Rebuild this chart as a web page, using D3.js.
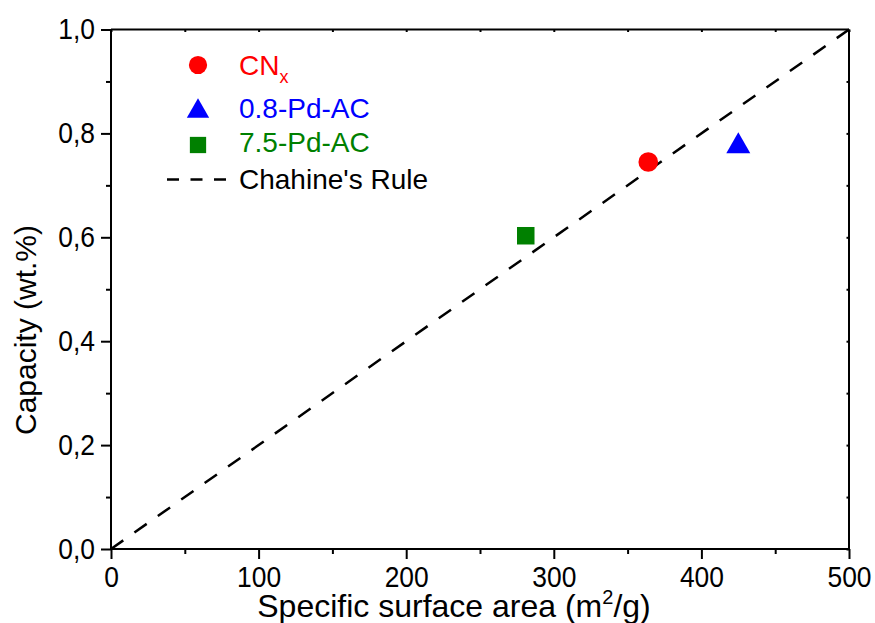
<!DOCTYPE html>
<html>
<head>
<meta charset="utf-8">
<script src="https://cdn.jsdelivr.net/npm/d3@7"></script>
<style>
  html, body { margin: 0; padding: 0; background: #fff; }
  svg { display: block; font-family: Arial, "Liberation Sans", sans-serif; }
</style>
</head>
<body>
<svg id="chart" width="875" height="623"></svg>
<script>
// ---- data ----
const seriesNames = ["CNx", "0.8-Pd-AC", "7.5-Pd-AC"];
const seriesColors = ["#ff0000", "#0000ff", "#008000"];
const seriesSymbols = ["circle", "triangle", "square"];
const surfaceArea = [364, 425, 281];      // m2/g
const capacity = [0.745, 0.782, 0.603];   // wt.%
const ruleX = [0, 500];
const ruleY = [0, 1.0];
const xTicks = [0, 100, 200, 300, 400, 500];
const xMinorTicks = [50, 150, 250, 350, 450];
const yTicks = [0, 0.2, 0.4, 0.6, 0.8, 1.0];
const yMinorTicks = [0.1, 0.3, 0.5, 0.7, 0.9];
const yTickLabels = ["0,0", "0,2", "0,4", "0,6", "0,8", "1,0"];

// ---- layout ----
const svg = d3.select("#chart");
const pL = 111, pR = 849, pT = 29.5, pB = 549;
const x = d3.scaleLinear().domain([0, 500]).range([pL, pR]);
const y = d3.scaleLinear().domain([0, 1]).range([pB, pT]);

function condense(sel, f) {
  sel.each(function() {
    const len = this.getComputedTextLength();
    d3.select(this).attr("textLength", len * f).attr("lengthAdjust", "spacingAndGlyphs");
  });
}

// frame ticks (top/right tiny inward)
const gTop = svg.append("g").attr("transform", `translate(0,${pT})`)
  .call(d3.axisTop(x).tickValues(xTicks.concat(xMinorTicks)).tickSize(-2.5).tickFormat(""));
const gRight = svg.append("g").attr("transform", `translate(${pR},0)`)
  .call(d3.axisRight(y).tickValues(yTicks.concat(yMinorTicks)).tickSize(-2.5).tickFormat(""));

// minor ticks bottom/left
const gBm = svg.append("g").attr("transform", `translate(0,${pB})`)
  .call(d3.axisBottom(x).tickValues(xMinorTicks).tickSize(5).tickFormat(""));
const gLm = svg.append("g").attr("transform", `translate(${pL},0)`)
  .call(d3.axisLeft(y).tickValues(yMinorTicks).tickSize(5).tickFormat(""));

// major axes
const gB = svg.append("g").attr("transform", `translate(0,${pB})`)
  .call(d3.axisBottom(x).tickValues(xTicks).tickSize(10).tickPadding(7.5).tickFormat(d3.format("d")));
const gL = svg.append("g").attr("transform", `translate(${pL},0)`)
  .call(d3.axisLeft(y).tickValues(yTicks).tickSize(10).tickPadding(6)
        .tickFormat((d, i) => yTickLabels[i]));

[gTop, gRight, gBm, gLm, gB, gL].forEach(g => {
  g.select(".domain").attr("stroke", "#000").attr("stroke-width", 2);
  g.selectAll(".tick line").attr("stroke", "#000").attr("stroke-width", 2);
});
gRight.select(".domain").attr("d", `M0,${pT}V${pB}`);
gBm.select(".domain").remove();
gLm.select(".domain").remove();
gB.select(".domain").attr("d", `M${pL},0H${pR}`);
gL.select(".domain").attr("d", `M0,${pT}V${pB}`);
gTop.select(".domain").attr("d", `M${pL},0H${pR}`);

[gB, gL].forEach(g => {
  const t = g.selectAll(".tick text").attr("font-size", 29).attr("fill", "#000")
    .attr("font-family", "Arial, 'Liberation Sans', sans-serif");
  condense(t, 0.91);
});

// Chahine's rule
const ruleLen = Math.hypot(x(ruleX[1]) - x(ruleX[0]), y(ruleY[1]) - y(ruleY[0]));
const dashLen = 15, nPer = 31;
const gapLen = (ruleLen - dashLen) / nPer - dashLen;
svg.append("path")
  .datum(ruleX.map((v, i) => [v, ruleY[i]]))
  .attr("d", d3.line().x(d => x(d[0])).y(d => y(d[1])))
  .attr("fill", "none").attr("stroke", "#000").attr("stroke-width", 2.5)
  .attr("stroke-dasharray", `${dashLen},${gapLen}`);

// symbols
function drawSymbol(g, type, cx, cy, color, sc) {
  sc = sc || 1;
  if (type === "circle") {
    g.append("circle").attr("cx", cx).attr("cy", cy).attr("r", 9.8 * sc).attr("fill", color);
  } else if (type === "triangle") {
    const w = 24 * sc, h = 21 * sc;
    g.append("path").attr("d", `M${cx},${cy - h / 2}L${cx + w / 2},${cy + h / 2}L${cx - w / 2},${cy + h / 2}Z`)
      .attr("fill", color);
  } else {
    const s = 17.5 * sc;
    g.append("rect").attr("x", cx - s / 2).attr("y", cy - s / 2).attr("width", s).attr("height", s)
      .attr("fill", color);
  }
}

const gPts = svg.append("g");
surfaceArea.forEach((v, i) => {
  drawSymbol(gPts, seriesSymbols[i], x(v), y(capacity[i]), seriesColors[i]);
});

// legend
const lg = svg.append("g");
const legSymX = 198;
const legTextX = 239;
const legRows = [65, 108, 145];
const legBase = [75, 118, 152];
seriesSymbols.forEach((s, i) => drawSymbol(lg, s, legSymX, legRows[i], seriesColors[i], 0.93));

const t0 = lg.append("text").attr("x", legTextX).attr("y", legBase[0])
  .attr("font-size", 28).attr("fill", seriesColors[0]);
t0.append("tspan").text("CN");
t0.append("tspan").attr("font-size", 18).attr("dy", 8).text("x");

lg.append("text").attr("x", legTextX).attr("y", legBase[1])
  .attr("font-size", 28).attr("fill", seriesColors[1]).text(seriesNames[1]);
lg.append("text").attr("x", legTextX).attr("y", legBase[2])
  .attr("font-size", 28).attr("fill", seriesColors[2]).text(seriesNames[2]);

lg.append("line").attr("x1", 167).attr("x2", 226).attr("y1", 179.5).attr("y2", 179.5)
  .attr("stroke", "#000").attr("stroke-width", 2.5).attr("stroke-dasharray", "12,11.5");
lg.append("text").attr("x", legTextX).attr("y", 189)
  .attr("font-size", 28).attr("fill", "#000").text("Chahine's Rule");

// axis titles
const xt = svg.append("text").attr("x", 454).attr("y", 617)
  .attr("text-anchor", "middle").attr("font-size", 32).attr("fill", "#000");
xt.append("tspan").text("Specific surface area (m");
xt.append("tspan").attr("font-size", 20).attr("dy", -13).text("2");
xt.append("tspan").attr("dy", 13).text("/g)");

svg.append("text").attr("transform", "translate(36,330) rotate(-90)")
  .attr("text-anchor", "middle").attr("font-size", 30).attr("fill", "#000")
  .text("Capacity (wt.%)");
</script>
</body>
</html>
